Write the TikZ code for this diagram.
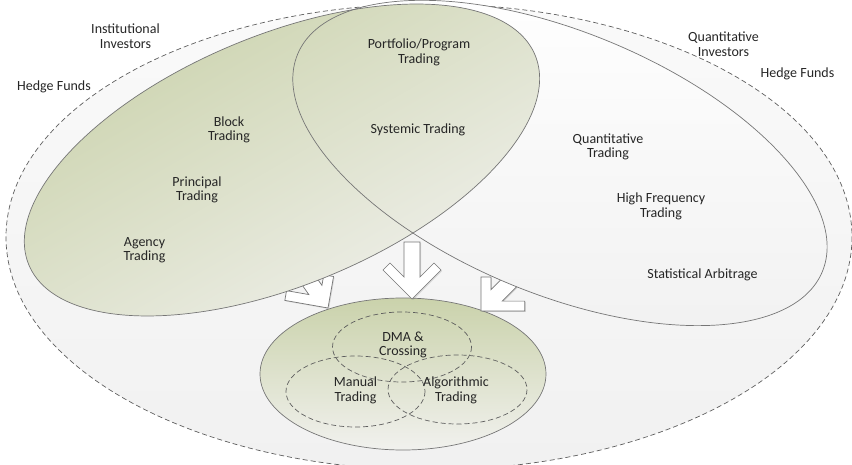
\documentclass[tikz,border=0pt]{standalone}
\usepackage{fontspec}
\setmainfont{Carlito}
\usetikzlibrary{shadows}
\definecolor{sage}{HTML}{CAD2AB}
\definecolor{mist}{HTML}{F1F1EE}
\definecolor{rimgray}{HTML}{767676}
\definecolor{dashgray}{HTML}{5E5E5E}
\definecolor{inkgray}{HTML}{262626}

\begin{document}
\begin{tikzpicture}[
    x=1pt, y=-1pt,
    lblstyle/.style={align=center, inner sep=0pt, text=inkgray, font=\fontsize{14}{14.5}\selectfont},
    rimstyle/.style={draw=rimgray, line width=0.7pt},
    dashstyle/.style={draw=dashgray, line width=0.7pt, dash pattern=on 5pt off 3pt},
    arrowstyle/.style={draw=rimgray, line width=0.7pt, fill=white,
      drop shadow={shadow xshift=1pt, shadow yshift=-1pt, opacity=0.25}}
  ]
  \useasboundingbox (0,0) rectangle (852,465);
  \coordinate (outerC) at (429,237);
  \coordinate (instC) at (282,160);
  \coordinate (quantC) at (560,163);
  \coordinate (execC) at (403,374);
  \coordinate (tipL) at (328,308);
  \coordinate (tipM) at (412,299);
  \coordinate (tipR) at (481,311);

  % outer dashed field
  \path[top color=gray!4, bottom color=gray!11] (outerC) ellipse [x radius=423, y radius=233];
  \path[dashstyle] (outerC) ellipse [x radius=423, y radius=233];

  % execution ellipse
  \draw[rimstyle, top color=sage, bottom color=mist] (execC) ellipse [x radius=143, y radius=76];
  \draw[dashstyle] (402,347) ellipse [x radius=69.5, y radius=35];
  \draw[dashstyle] (355.5,391.5) ellipse [x radius=69.5, y radius=35.5];
  \draw[dashstyle] (457.5,389.5) ellipse [x radius=69.5, y radius=34.5];

  % arrows into the execution ellipse (stems run under the big ellipses)
  \draw[arrowstyle, shift={(tipL)}, rotate=35]
    (0,0) -- (-31,-31) -- (-24,-38) -- (-8,-22) -- (-8,-62) -- (8,-62) -- (8,-22) -- (15.6,-29.6) -- (22.6,-22.6) -- cycle;
  \draw[arrowstyle, shift={(tipM)}]
    (0,0) -- (-29,-29) -- (-22,-36) -- (-8,-22) -- (-8,-57) -- (8,-57) -- (8,-22) -- (22,-36) -- (29,-29) -- cycle;
  \draw[arrowstyle, shift={(tipR)}, rotate=-45]
    (0,0) -- (-24,-24) -- (-17,-31) -- (-8,-22) -- (-8,-62) -- (8,-62) -- (8,-22) -- (24,-38) -- (31,-31) -- cycle;

  % quantitative and institutional ellipses
  \path[top color=white, bottom color=gray!11, rotate around={-22.5:(quantC)}]
    (quantC) ellipse [x radius=284, y radius=131];
  \path[top color=sage, bottom color=mist, shading angle=30, rotate around={22.5:(instC)}]
    (instC) ellipse [x radius=274, y radius=125];
  \draw[rimstyle, rotate around={22.5:(instC)}] (instC) ellipse [x radius=274, y radius=125];
  \draw[rimstyle, rotate around={-22.5:(quantC)}] (quantC) ellipse [x radius=284, y radius=131];

  % labels
  \node[lblstyle] (instinv) at (125.5,36) {Institutional\\Investors};
  \node[lblstyle] (hedgeL) at (54,87) {Hedge Funds};
  \node[lblstyle] (block) at (229,130) {Block\\Trading};
  \node[lblstyle] (principal) at (197,190) {Principal\\Trading};
  \node[lblstyle] (agency) at (144.5,250) {Agency\\Trading};
  \node[lblstyle] (portfolio) at (419,52.5) {Portfolio/Program\\Trading};
  \node[lblstyle] (systemic) at (418,130) {Systemic Trading};
  \node[lblstyle] (quantinv) at (723.5,44) {Quantitative\\Investors};
  \node[lblstyle] (hedgeR) at (797.5,74) {Hedge Funds};
  \node[lblstyle] (quanttr) at (608,147) {Quantitative\\Trading};
  \node[lblstyle] (hft) at (661,206.5) {High Frequency\\Trading};
  \node[lblstyle] (statarb) at (702.5,275) {Statistical Arbitrage};
  \node[lblstyle] (dma) at (403,345) {DMA \&\\Crossing};
  \node[lblstyle] (manual) at (355.5,390.5) {Manual\\Trading};
  \node[lblstyle] (algo) at (456,390.5) {Algorithmic\\Trading};
\end{tikzpicture}
\end{document}
